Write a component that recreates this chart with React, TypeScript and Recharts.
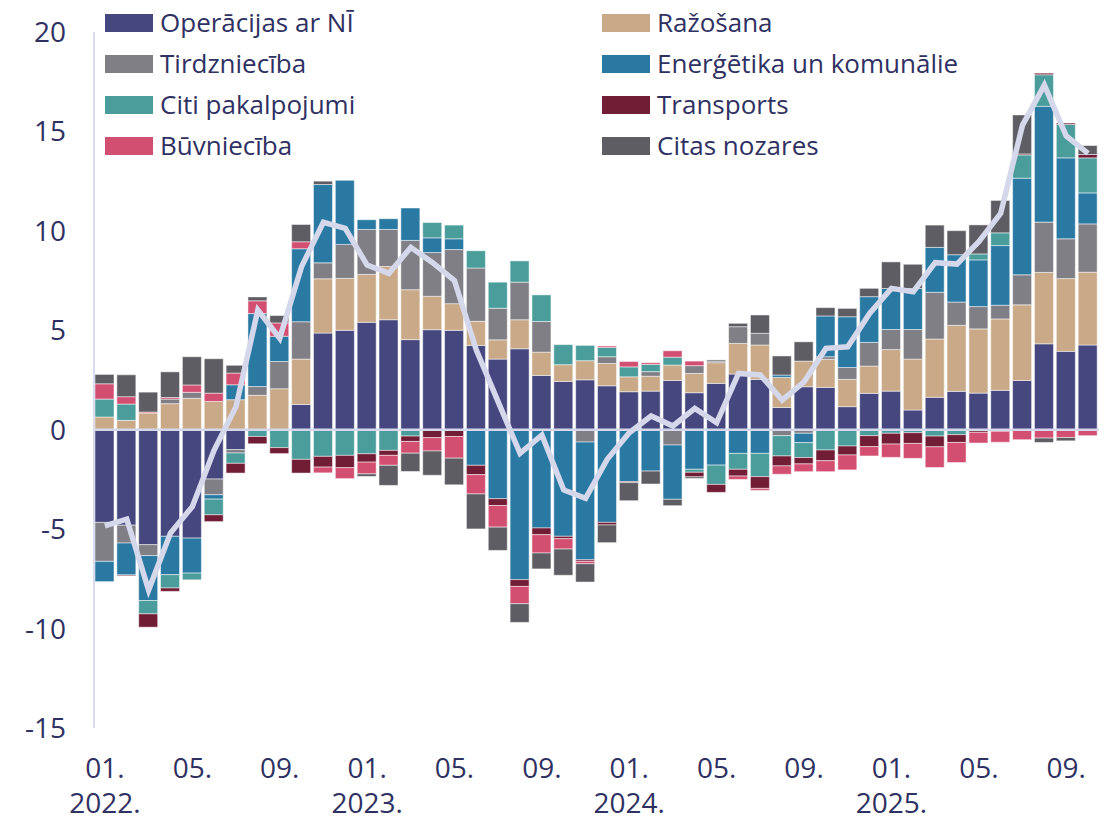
import { ComposedChart, Bar, Line, XAxis, YAxis, ReferenceLine } from "recharts";

// months from 01.2022 to 10.2025
const months = [
  "2022-01", "2022-02", "2022-03", "2022-04", "2022-05", "2022-06", "2022-07", "2022-08", "2022-09", "2022-10", "2022-11", "2022-12",
  "2023-01", "2023-02", "2023-03", "2023-04", "2023-05", "2023-06", "2023-07", "2023-08", "2023-09", "2023-10", "2023-11", "2023-12",
  "2024-01", "2024-02", "2024-03", "2024-04", "2024-05", "2024-06", "2024-07", "2024-08", "2024-09", "2024-10", "2024-11", "2024-12",
  "2025-01", "2025-02", "2025-03", "2025-04", "2025-05", "2025-06", "2025-07", "2025-08", "2025-09", "2025-10",
];

const realEstate = [
  -4.66, -4.8, -5.78, -5.36, -5.45, -2.48, -1.0, 0, 0, 1.27, 4.86, 5.0,
  5.4, 5.53, 4.53, 5.03, 5.0, 4.24, 3.55, 4.07, 2.73, 2.43, 2.51, 2.21,
  1.91, 1.94, 2.48, 1.86, 2.33, 2.8, 2.53, 1.12, 2.16, 2.13, 1.16, 1.83,
  1.94, 0.99, 1.63, 1.93, 1.84, 1.98, 2.48, 4.32, 3.94, 4.26,
];
const manufacturing = [
  0.64, 0.47, 0.84, 1.31, 1.58, 1.42, 1.51, 1.73, 2.06, 2.28, 2.73, 2.61,
  2.41, 2.68, 2.51, 1.68, 1.34, 1.21, 0.97, 1.46, 1.17, 0.84, 0.96, 1.12,
  0.75, 0.75, 0.77, 0.97, 1.04, 1.54, 1.73, 1.51, 1.29, 1.41, 1.37, 1.37,
  2.09, 2.56, 2.93, 3.32, 3.23, 3.59, 3.8, 3.59, 3.66, 3.66,
];
const trade = [
  -1.96, -0.9, -0.55, 0.23, 0.3, -0.79, -0.17, 0.44, 1.37, 1.88, 0.8, 1.71,
  2.26, 1.86, 2.48, 2.2, 2.72, 2.68, 1.59, 1.89, 1.54, 0, -0.62, 0.34,
  0, 0.23, -0.77, 0.39, 0.08, 0.84, 0.59, -0.3, -0.18, 0.13, 0.6, 1.19,
  1.01, 1.49, 2.35, 1.17, 1.12, 0.69, 1.51, 2.53, 2.0, 2.43,
];
const energy = [
  -1.02, -1.6, -2.26, -1.93, -1.76, -0.22, 0.75, 3.67, 1.27, 3.67, 3.94, 3.22,
  0.49, 0.54, 1.63, 0.74, 0.54, -1.79, -3.47, -7.54, -4.94, -5.36, -5.92, -4.66,
  -2.61, -2.08, -2.73, -1.99, -1.78, -1.19, -1.19, 0.12, -0.47, 2.05, 2.55, 2.3,
  2.06, 2.06, 2.26, 2.38, 2.35, 3.0, 4.86, 5.82, 4.07, 1.56,
];
const otherServices = [
  0.9, 0.82, -0.67, -0.67, -0.34, -0.79, -0.52, -0.34, -0.9, -1.49, -1.34, -1.29,
  -1.21, -1.04, -0.32, 0.77, 0.69, 0.87, 1.31, 1.07, 1.34, 1.01, 0.77, 0.47,
  0.5, 0.37, 0.4, -0.15, -0.97, -0.8, -1.17, -1.02, -0.75, -1.02, -0.82, -0.3,
  -0.18, -0.15, -0.32, -0.25, 0.3, 0.64, 1.17, 1.59, 1.68, 1.76,
];
const transport = [
  0, -0.05, -0.67, -0.17, 0, -0.34, -0.49, -0.37, -0.3, -0.69, -0.54, -0.62,
  -0.42, -0.25, -0.27, -0.4, -0.34, -0.47, -0.34, -0.34, -0.34, -0.12, -0.08, -0.13,
  -0.05, 0, 0, -0.23, -0.4, -0.34, -0.59, -0.5, -0.32, -0.54, -0.45, -0.55,
  -0.54, -0.54, -0.54, -0.39, -0.13, -0.08, 0.05, 0.08, 0.07, 0.17,
];
const construction = [
  0.77, 0.37, 0.05, 0.08, 0.37, 0.42, 0.59, 0.64, 0.67, 0.35, -0.29, -0.55,
  -0.59, -0.5, -0.59, -0.67, -1.09, -0.97, -1.09, -0.87, -0.92, -0.52, -0.12, 0.07,
  0.27, 0.08, 0.32, 0.23, 0, -0.17, -0.1, -0.42, -0.39, -0.55, -0.75, -0.47,
  -0.67, -0.75, -1.04, -1.01, -0.54, -0.55, -0.5, -0.42, -0.39, -0.3,
];
const otherSectors = [
  0.47, 1.1, 1.0, 1.29, 1.42, 1.73, 0.39, 0.2, 0.37, 0.87, 0.17, 0,
  -0.13, -1.01, -0.92, -1.22, -1.34, -1.76, -1.17, -0.94, -0.8, -1.32, -0.92, -0.89,
  -0.91, -0.65, -0.32, -0.08, 0.06, 0.17, 0.92, 0.96, 0.97, 0.42, 0.42, 0.42,
  1.34, 1.22, 1.12, 1.21, 1.46, 1.63, 1.96, -0.22, -0.17, 0.45,
];
const total = [
  -4.84, -4.5, -8.06, -5.2, -3.87, -1.02, 1.16, 6.02, 4.6, 8.2, 10.43, 10.13,
  8.28, 7.86, 9.17, 8.4, 7.5, 4.0, 1.4, -1.19, -0.27, -3.03, -3.45, -1.47,
  -0.15, 0.69, 0.19, 1.07, 0.35, 2.83, 2.75, 1.49, 2.41, 4.09, 4.17, 5.85,
  7.11, 6.94, 8.4, 8.33, 9.46, 10.88, 15.32, 17.33, 14.77, 13.9,
];

const yTicks = [-15, -10, -5, 0, 5, 10, 15, 20];

const series = [
  { key: "realEstate", name: "Operācijas ar NĪ", color: "#45477e", values: realEstate },
  { key: "manufacturing", name: "Ražošana", color: "#c9a987", values: manufacturing },
  { key: "trade", name: "Tirdzniecība", color: "#807f86", values: trade },
  { key: "energy", name: "Enerģētika un komunālie", color: "#2a79a3", values: energy },
  { key: "otherServices", name: "Citi pakalpojumi", color: "#4a9d9b", values: otherServices },
  { key: "transport", name: "Transports", color: "#721d36", values: transport },
  { key: "construction", name: "Būvniecība", color: "#d34f72", values: construction },
  { key: "otherSectors", name: "Citas nozares", color: "#5e5d63", values: otherSectors },
];

const TEXT = "#2f3162";
const FONT = "'Open Sans', sans-serif";

const data = months.map((m, i) => {
  const row: Record<string, any> = { month: m, total: total[i] };
  series.forEach((s) => (row[s.key] = s.values[i]));
  return row;
});

// "01." on the first line, the year under January only
const MonthTick = ({ x, y, payload }: any) => {
  const [year, mon] = String(payload.value).split("-");
  return (
    <g>
      <text x={x} y={y + 50} textAnchor="middle" fill={TEXT} fontSize={28} fontFamily={FONT}>
        {`${mon}.`}
      </text>
      {mon === "01" && (
        <text x={x} y={y + 85} textAnchor="middle" fill={TEXT} fontSize={28} fontFamily={FONT}>
          {`${year}.`}
        </text>
      )}
    </g>
  );
};

export default function App() {
  return (
    <div style={{ position: "relative", width: 1117, height: 820, fontFamily: FONT }}>
      <style>{`body{margin:0}`}</style>
      <ComposedChart
        width={1117}
        height={820}
        data={data}
        stackOffset="sign"
        barSize={19}
        margin={{ top: 32, right: 18, left: 0, bottom: 0 }}
      >
        <XAxis
          dataKey="month"
          interval={3}
          height={92}
          axisLine={false}
          tickLine={false}
          tickSize={0}
          tickMargin={0}
          tick={<MonthTick />}
        />
        <YAxis
          type="number"
          domain={[-15, 20]}
          ticks={yTicks}
          width={94}
          tickSize={0}
          tickMargin={28}
          tickLine={false}
          axisLine={{ stroke: "#d9dbee", strokeWidth: 2 }}
          tick={{ fill: TEXT, fontSize: 28, fontFamily: FONT }}
        />
        {series.map((s) => (
          <Bar
            key={s.key}
            dataKey={s.key}
            name={s.name}
            stackId="a"
            fill={s.color}
            stroke="#ffffff"
            strokeWidth={0.7}
            strokeOpacity={0.7}
            isAnimationActive={false}
          />
        ))}
        <ReferenceLine y={0} stroke="#d5d7ea" strokeWidth={2.5} />
        <Line
          dataKey="total"
          type="linear"
          stroke="#d5d7eb"
          strokeWidth={5.5}
          dot={false}
          activeDot={false}
          isAnimationActive={false}
        />
      </ComposedChart>

      {/* legend: two columns, row-major order */}
      <div style={{ position: "absolute", left: 105, top: 2, display: "grid", gridTemplateColumns: "497px auto" }}>
        {series.map((s) => (
          <div key={s.key} style={{ display: "flex", alignItems: "center", height: 41 }}>
            <span style={{ width: 48, height: 18, background: s.color, marginRight: 7, flexShrink: 0 }} />
            <span style={{ fontSize: 26, color: TEXT, whiteSpace: "nowrap", lineHeight: "41px" }}>{s.name}</span>
          </div>
        ))}
      </div>
    </div>
  );
}
